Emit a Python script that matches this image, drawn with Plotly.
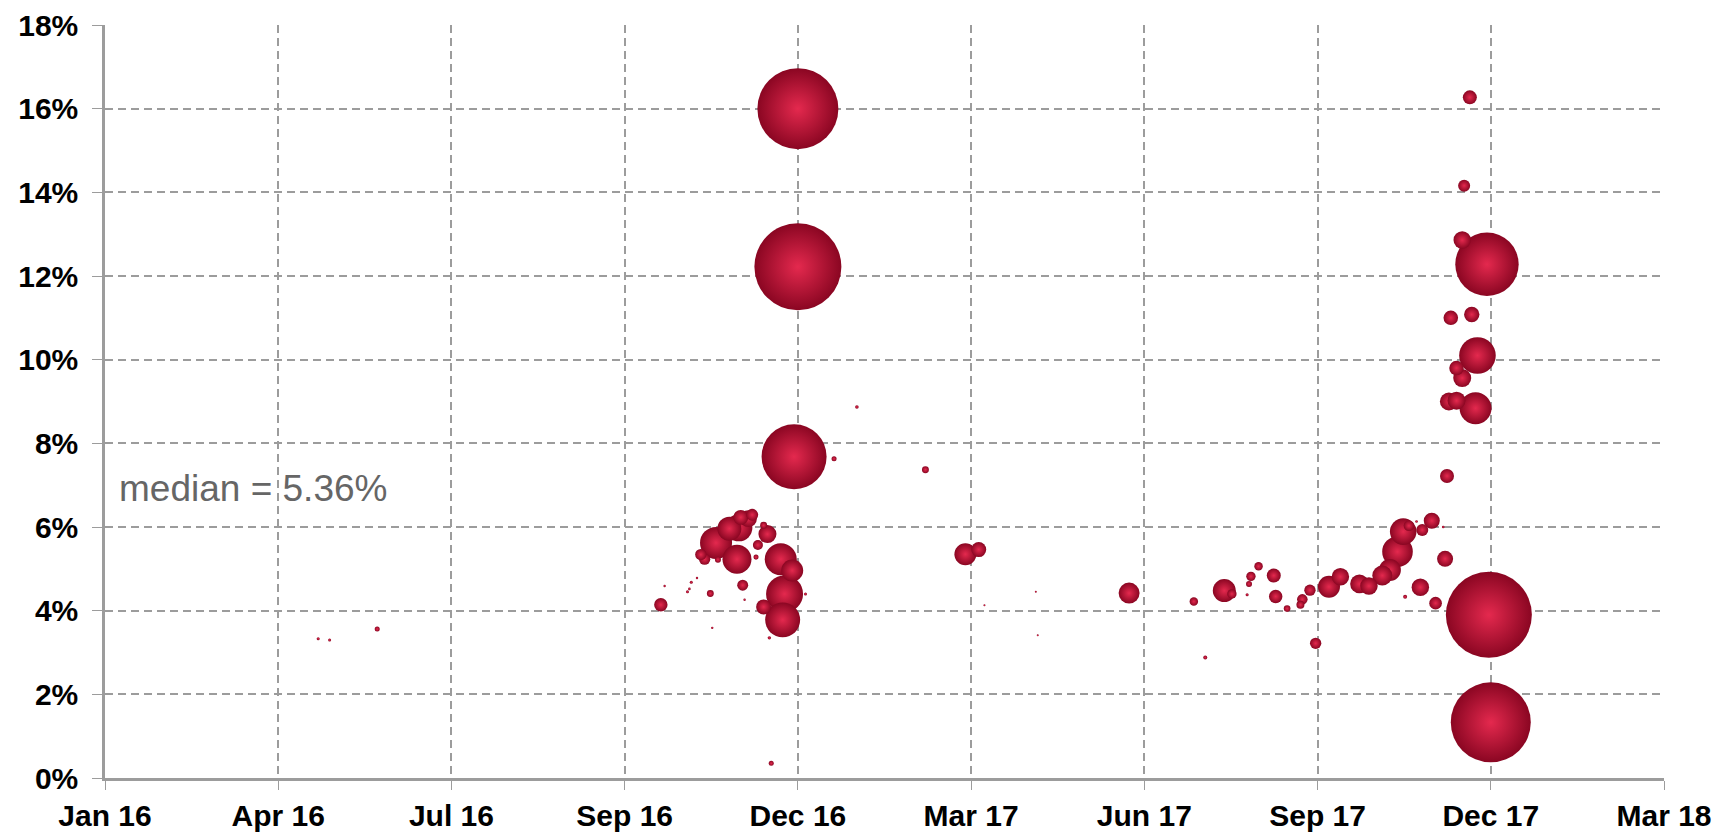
import numpy as np
import plotly.graph_objects as go

# ---- data ----
dates = [
    "2016-04-22", "2016-04-28", "2016-05-23",
    "2016-10-19", "2016-10-21", "2016-11-02", "2016-11-03", "2016-11-04", "2016-11-07",
    "2016-11-14", "2016-11-15", "2016-11-11", "2016-11-09", "2016-11-18", "2016-11-17",
    "2016-11-24", "2016-11-29", "2016-11-28", "2016-11-30", "2016-12-04", "2016-12-06",
    "2016-12-09", "2016-12-12", "2016-12-14", "2016-12-08", "2016-12-01", "2016-12-02",
    "2016-12-21", "2016-12-27", "2016-12-23", "2017-01-03", "2016-12-12", "2016-12-22",
    "2016-12-15", "2016-12-16",
    "2016-12-30", "2016-12-30", "2016-12-28", "2017-01-18", "2017-01-30", "2017-03-07",
    "2017-03-28", "2017-04-04", "2017-04-07", "2017-05-04", "2017-05-05",
    "2017-06-22", "2017-07-26", "2017-08-01", "2017-08-11", "2017-08-15", "2017-08-23",
    "2017-08-24", "2017-08-25", "2017-08-29", "2017-09-06", "2017-09-07", "2017-09-13",
    "2017-09-20", "2017-09-21", "2017-09-25", "2017-09-28", "2017-10-05", "2017-10-11",
    "2017-10-21", "2017-10-26", "2017-11-02", "2017-11-06", "2017-11-10", "2017-11-13",
    "2017-11-16", "2017-11-20", "2017-11-23", "2017-11-28", "2017-12-04", "2017-12-05",
    "2017-11-22", "2017-11-14", "2017-11-30",
    "2017-12-18", "2017-12-15", "2017-12-14", "2017-12-27", "2017-12-08", "2017-12-19",
    "2017-12-22", "2017-12-11", "2017-12-14", "2017-12-07", "2017-12-11", "2017-12-21",
    "2017-12-06", "2017-12-28", "2017-12-29",
]
rates = [
    3.33, 3.30, 3.56,
    4.14, 4.59, 4.45, 4.52, 4.68, 4.78,
    4.41, 3.59, 5.23, 5.34, 5.22, 5.62,
    5.96, 5.98, 5.23, 6.23, 6.20, 6.29,
    5.57, 6.04, 5.83, 5.28, 4.61, 4.26,
    5.23, 4.96, 4.40, 4.40, 4.09, 3.78,
    3.35, 0.35,
    16.00, 12.22, 7.68, 7.63, 8.87, 7.37,
    5.35, 5.46, 4.13, 4.45, 3.41,
    4.42, 4.22, 2.88, 4.48, 4.40, 4.38,
    4.64, 4.82, 5.06, 4.84, 4.34, 4.05,
    4.14, 4.27, 4.49, 3.22, 4.57, 4.81,
    4.64, 4.59, 4.84, 4.97, 5.41, 5.89,
    6.03, 6.13, 5.93, 6.15, 6.00, 5.24,
    4.56, 4.33, 4.18,
    16.27, 14.16, 12.86, 12.28, 11.00, 11.08,
    10.10, 9.80, 9.56, 9.00, 9.02, 8.84,
    7.22, 3.90, 1.33,
]
volumes = [
    2.3, 2.3, 6.3,
    45, 1.4, 2.3, 1.7, 2.3, 1.4,
    12, 1.4, 32, 32, 9, 256,
    144, 182, 210, 56, 72, 36,
    25, 12, 81, 6.3, 30, 1.4,
    256, 121, 342, 2.3, 56, 306,
    2.9, 6.3,
    1640, 1892, 1056, 6.3, 3.2, 12,
    121, 56, 1.0, 1.0, 1.0,
    110, 18, 4.0, 132, 22, 2.3,
    9, 22, 18, 49, 45, 11,
    16, 28, 32, 32, 121, 76,
    86, 76, 100, 121, 234, 177,
    28, 1.7, 36, 64, 1.7, 64,
    76, 4.0, 40,
    49, 36, 76, 1005, 53, 59,
    335, 53, 81, 81, 81, 256,
    49, 1849, 1600,
]
x_ticks = ["2016-01-01", "2016-04-01", "2016-07-01", "2016-09-30", "2016-12-30",
           "2017-03-31", "2017-06-30", "2017-09-29", "2017-12-29", "2018-03-30"]
x_tick_labels = ["Jan 16", "Apr 16", "Jul 16", "Sep 16", "Dec 16",
                 "Mar 17", "Jun 17", "Sep 17", "Dec 17", "Mar 18"]
y_ticks = [0, 2, 4, 6, 8, 10, 12, 14, 16, 18]
y_tick_labels = ["0%", "2%", "4%", "6%", "8%", "10%", "12%", "14%", "16%", "18%"]
median_label = "median = 5.36%"

# draw large bubbles first so smaller ones sit on top
order = np.argsort(-np.array(volumes), kind="stable")
xs = [dates[i] for i in order]
ys = [rates[i] for i in order]
vs = [volumes[i] for i in order]

FONT = "Arial, Liberation Sans, sans-serif"
GRID = "#9c9c9c"

fig = go.Figure()
fig.add_trace(go.Scatter(
    x=xs, y=ys, mode="markers",
    marker=dict(
        size=vs, sizemode="area", sizeref=0.5, sizemin=1,
        color="#8a0622", opacity=1,
        gradient=dict(type="radial", color="#e4294e"),
        line=dict(width=0),
    ),
    hoverinfo="x+y",
    showlegend=False,
))

fig.add_annotation(
    xref="paper", yref="y", x=0.008, y=6.92, xanchor="left", yanchor="middle",
    text=median_label, showarrow=False,
    font=dict(family=FONT, size=37, color="#666666"),
)

fig.update_layout(
    width=1718, height=832,
    margin=dict(l=105, r=54, t=25, b=54, autoexpand=False),
    paper_bgcolor="white", plot_bgcolor="white",
    font=dict(family=FONT),
    xaxis=dict(
        type="date", range=[x_ticks[0], x_ticks[-1]],
        tickmode="array", tickvals=x_ticks, ticktext=x_tick_labels,
        showgrid=True, gridcolor=GRID, gridwidth=1.5, griddash="8px,5px",
        showline=True, linecolor=GRID, linewidth=2.5,
        ticks="outside", ticklen=9, tickcolor=GRID, tickwidth=1,
        ticklabelstandoff=0, automargin=False,
        tickfont=dict(family=FONT, size=30, color="black", weight="bold"),
        zeroline=False,
    ),
    yaxis=dict(
        range=[0, 18],
        tickmode="array", tickvals=y_ticks, ticktext=y_tick_labels,
        showgrid=True, gridcolor=GRID, gridwidth=1.5, griddash="8px,5px",
        showline=True, linecolor=GRID, linewidth=2.5,
        ticks="outside", ticklen=10, tickcolor=GRID, tickwidth=1,
        ticklabelstandoff=8, automargin=False,
        tickfont=dict(family=FONT, size=30, color="black", weight="bold"),
        zeroline=False,
    ),
)

fig.write_html(
    "out.html",
    config={"displayModeBar": False},
    post_script="document.body.style.margin='0px';document.body.style.overflow='hidden';",
)
